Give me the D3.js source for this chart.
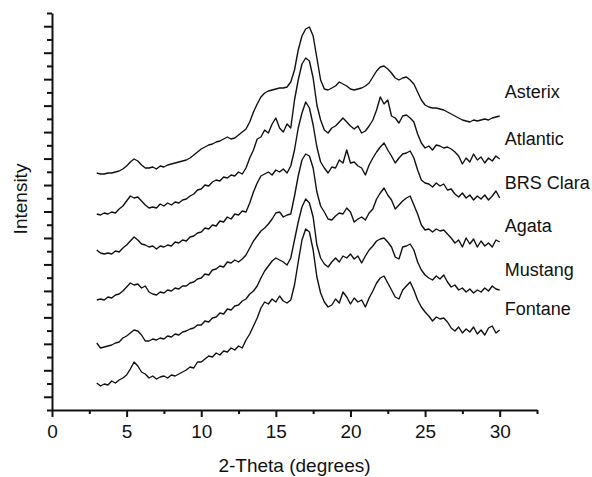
<!DOCTYPE html>
<html>
<head>
<meta charset="utf-8">
<script src="https://cdn.jsdelivr.net/npm/d3@7"></script>
<style>
  body { margin: 0; background: #fff; }
  svg { display: block; font-family: "Liberation Sans", Arial, sans-serif; }
  .axis path, .axis line { stroke: #111; stroke-width: 2px; }
  .axis text { font-size: 19px; fill: #111; font-family: "Liberation Sans", Arial, sans-serif; }
  .trace { fill: none; stroke: #111; stroke-width: 1.4px; stroke-linejoin: round; }
  .label { font-size: 18px; fill: #111; }
</style>
</head>
<body>
<div id="chart"></div>
<script>
(function(d3) {
  'use strict';

  // 2-theta grid: 3 to 30 degrees, every 0.25
  var thetaStart = 3;
  var thetaStep = 0.25;

  // intensities (arbitrary units, offset stacked as in the figure)
  var asterix = [
    237,236,236,237,237,238,239,241,244,248,
    251,249,245,242,242,243,241,244,243,245,
    246,247,248,249,250,252,255,258,261,263,
    265,266,268,269,271,273,271,272,275,278,
    281,288,298,306,313,317,319,320,321,322,
    322,323,328,340,360,374,381,383,374,352,
    330,321,320,322,324,328,326,324,321,320,
    321,322,324,327,333,339,343,344,341,337,
    332,330,332,333,330,326,318,310,305,303,
    302,302,301,300,298,296,294,292,290,289,
    288,290,289,290,291,290,292,293,294
  ];
  var atlantic = [
    196,195,197,196,198,197,201,204,209,214,
    212,213,209,205,202,203,202,206,204,207,
    205,208,207,210,211,214,216,220,221,225,
    224,228,230,229,233,232,235,234,238,236,
    242,252,260,271,273,280,277,286,292,282,
    278,286,282,310,330,346,352,349,332,305,
    290,280,277,282,284,288,292,288,284,281,
    284,277,279,284,290,300,313,306,310,294,
    292,287,294,295,292,288,276,267,262,264,
    260,265,264,262,263,261,258,254,246,252,
    248,256,250,253,247,252,249,254,251
  ];
  var brsClara = [
    160,157,156,157,156,159,158,162,165,169,
    173,170,166,165,163,164,161,164,163,165,
    164,168,167,170,169,173,174,177,178,182,
    181,185,184,189,188,193,191,196,195,199,
    198,207,218,227,234,236,238,235,240,238,
    241,237,244,260,282,297,308,302,285,263,
    248,242,237,243,242,250,247,260,247,248,
    244,242,235,245,252,258,263,267,260,254,
    247,252,256,257,259,252,240,230,227,226,
    223,227,224,226,220,221,216,213,217,212,
    215,210,214,211,215,210,214,219,212
  ];
  var agata = [
    110,111,110,113,112,115,116,119,123,127,
    125,126,122,124,118,116,115,118,117,120,
    119,122,121,124,124,127,128,131,132,136,
    135,140,141,144,143,148,147,150,148,151,
    155,162,169,174,179,182,186,191,197,198,
    193,195,196,214,234,250,256,254,242,218,
    204,198,191,190,194,197,196,202,198,188,
    191,193,190,197,201,211,217,222,215,210,
    201,205,209,212,214,205,196,185,180,181,
    178,181,179,180,176,172,167,170,163,172,
    166,171,163,169,164,167,163,170,168
  ];
  var mustang = [
    67,62,63,64,65,67,68,72,74,77,
    80,79,75,69,69,71,70,72,71,74,
    73,76,75,78,79,81,82,85,85,89,
    88,92,93,97,96,101,100,104,105,109,
    111,116,119,124,132,139,144,149,152,150,
    148,145,152,170,188,203,211,207,193,165,
    152,146,143,148,152,148,154,152,156,151,
    154,147,154,160,164,169,171,172,168,163,
    153,151,163,164,166,160,148,140,135,132,
    130,134,131,135,128,123,125,120,122,118,
    121,117,120,118,122,119,124,121,120
  ];
  var fontane = [
    27,24,26,25,29,27,30,32,35,41,
    48,44,38,36,32,34,31,33,34,32,
    35,34,36,38,40,43,42,48,48,51,
    54,53,57,55,59,58,62,60,64,62,
    70,76,84,92,102,108,106,111,108,114,
    109,107,110,125,148,170,181,178,160,133,
    117,108,103,105,111,107,118,113,106,112,
    108,110,103,112,119,127,132,134,127,120,
    113,111,120,124,128,120,110,103,98,94,
    89,93,91,92,88,82,79,83,77,81,
    78,83,76,80,75,82,84,77,80
  ];

  var names = ['Asterix', 'Atlantic', 'BRS Clara', 'Agata', 'Mustang', 'Fontane'];
  var labelLevels = [318, 271, 227, 184, 140, 101]; // intensity where each name sits
  var xMajorTicks = [0, 5, 10, 15, 20, 25, 30];
  var xMinorTicks = [2.5, 7.5, 12.5, 17.5, 22.5, 27.5, 32.5];

  var series = [asterix, atlantic, brsClara, agata, mustang, fontane];

  var width = 592;
  var height = 477;

  var x = d3.scaleLinear().domain([0, 32.5]).range([52, 537]);
  var y = d3.scaleLinear().domain([0, 397]).range([410, 13]);

  var yTickStep = 397 / 30;
  var yMajor = [], yMinor = [];
  for (var i = 0; i <= 30; i++) {
    if (i % 2 === 1) yMajor.push(i * yTickStep);
    else yMinor.push(i * yTickStep);
  }

  var svg = d3.select('#chart')
    .append('svg')
    .attr('width', width)
    .attr('height', height);

  svg.append('rect')
    .attr('width', width)
    .attr('height', height)
    .attr('fill', '#fff');

  var line = d3.line()
    .x(function(d, i) { return x(thetaStart + i * thetaStep); })
    .y(function(d) { return y(d); });

  svg.selectAll('.trace')
    .data(series)
    .enter().append('path')
      .attr('class', 'trace')
      .attr('d', line);

  svg.selectAll('.label')
    .data(names)
    .enter().append('text')
      .attr('class', 'label')
      .attr('x', x(30) + 5)
      .attr('y', function(d, i) { return y(labelLevels[i]); })
      .attr('dy', '0.35em')
      .text(function(d) { return d; });

  // x axis
  svg.append('g')
    .attr('class', 'axis axis--x')
    .attr('transform', 'translate(0,' + y(0) + ')')
    .call(d3.axisBottom(x).tickValues(xMajorTicks).tickSize(7).tickSizeOuter(0).tickPadding(8));

  var xMinor = svg.append('g')
    .attr('class', 'axis axis--x minor')
    .attr('transform', 'translate(0,' + y(0) + ')')
    .call(d3.axisBottom(x).tickValues(xMinorTicks).tickSize(4).tickFormat(''));
  xMinor.select('.domain').remove();

  // y axis
  svg.append('g')
    .attr('class', 'axis axis--y')
    .attr('transform', 'translate(' + x(0) + ',0)')
    .call(d3.axisLeft(y).tickValues(yMajor).tickSize(8).tickSizeOuter(0).tickFormat(''));

  var yMinorAxis = svg.append('g')
    .attr('class', 'axis axis--y minor')
    .attr('transform', 'translate(' + x(0) + ',0)')
    .call(d3.axisLeft(y).tickValues(yMinor).tickSize(5).tickFormat(''));
  yMinorAxis.select('.domain').remove();

  svg.append('text')
    .attr('x', (x.range()[0] + x.range()[1]) / 2)
    .attr('y', 472)
    .attr('text-anchor', 'middle')
    .style('font-size', '19px')
    .style('fill', '#111')
    .text('2-Theta (degrees)');

  svg.append('text')
    .attr('transform', 'translate(27,199) rotate(-90)')
    .attr('text-anchor', 'middle')
    .style('font-size', '19px')
    .style('fill', '#111')
    .text('Intensity');
})(window.d3);
</script>
</body>
</html>
